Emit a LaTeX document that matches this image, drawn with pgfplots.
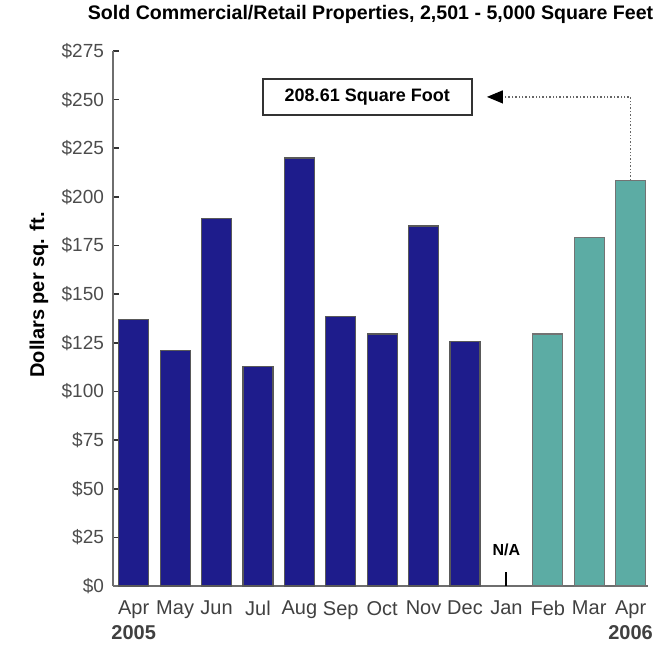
\documentclass[border=0pt]{standalone}
\usepackage{fontspec}
\setmainfont{Liberation Sans}
\usepackage{pgfplots}
\pgfplotsset{compat=1.18}
\usetikzlibrary{arrows.meta}
\definecolor{navy}{RGB}{30,28,140}
\definecolor{teal2}{RGB}{92,172,164}
\definecolor{axgray}{RGB}{110,110,110}
\begin{document}
\begin{tikzpicture}
\useasboundingbox (-56.5pt,-29.5pt) rectangle (272pt,293pt);
\begin{axis}[
  at={(0,0)}, anchor=south west,
  scale only axis, width=267.5pt, height=267.5pt,
  xmin=-0.5, xmax=12.42, ymin=0, ymax=275,
  axis x line=bottom, axis y line=left,
  axis line style={-, axgray, line width=1pt},
  clip=false,
  ytick={0,25,...,275},
  yticklabels={\$0,\$25,\$50,\$75,\$100,\$125,\$150,\$175,\$200,\$225,\$250,\$275},
  yticklabel style={font=\fontsize{9.5}{11}\selectfont, text=black!70, xshift=-1pt},
  ytick style={black!80, line width=0.8pt},
  major tick length=3pt,
  tick align=inside,
  xtick={0,...,12},
  xticklabels={{Apr\\\textbf{2005}},May,Jun,Jul,Aug,Sep,Oct,Nov,Dec,Jan,Feb,Mar,{Apr\\\textbf{2006}}},
  xticklabel style={font=\fontsize{10}{12.5}\selectfont, text=black!75, align=center, anchor=north, yshift=-1pt},
  x tick style={draw=none},
  ylabel={\textbf{Dollars per sq. ft.}},
  ylabel style={font=\fontsize{8.5}{10}\selectfont},
  every axis y label/.style={at={(-37pt,145.5pt)}, rotate=90, anchor=center},
  ybar, bar width=15pt, bar shift=0pt,
]
\addplot[fill=navy, draw=black!65, line width=0.6pt] coordinates {
 (0,137) (1,121.2) (2,189) (3,113) (4,220) (5,138.7) (6,129.5) (7,185) (8,125.5)};
\addplot[fill=teal2, draw=black!55, line width=0.6pt] coordinates {
 (10,129.5) (11,179) (12,208.61)};
\addplot[ycomb, black, line width=1pt, mark=none] coordinates {(9,7)};
\node[font=\bfseries\fontsize{8}{9}\selectfont] at (axis cs:9,18.5) {N/A};
% annotation
\node[draw=black!80, line width=1pt, minimum width=104.5pt, minimum height=18pt, fill=white,
      font=\bfseries\fontsize{9}{10}\selectfont] at (axis cs:5.64,251.4) {208.61 Square Foot};
\draw[black!60, densely dotted, line width=0.7pt] (axis cs:12,208.61) |- (axis cs:8.75,251.4);
\draw[-{Triangle[length=8pt,width=6.5pt]}, black, line width=0.6pt] (axis cs:8.80,251.4) -- (axis cs:8.53,251.4);
% title
\node[font=\bfseries\fontsize{9.8}{11}\selectfont] at (axis cs:5.72,293.6) {Sold Commercial/Retail Properties, 2,501 - 5,000 Square Feet};
\end{axis}
\end{tikzpicture}
\end{document}
